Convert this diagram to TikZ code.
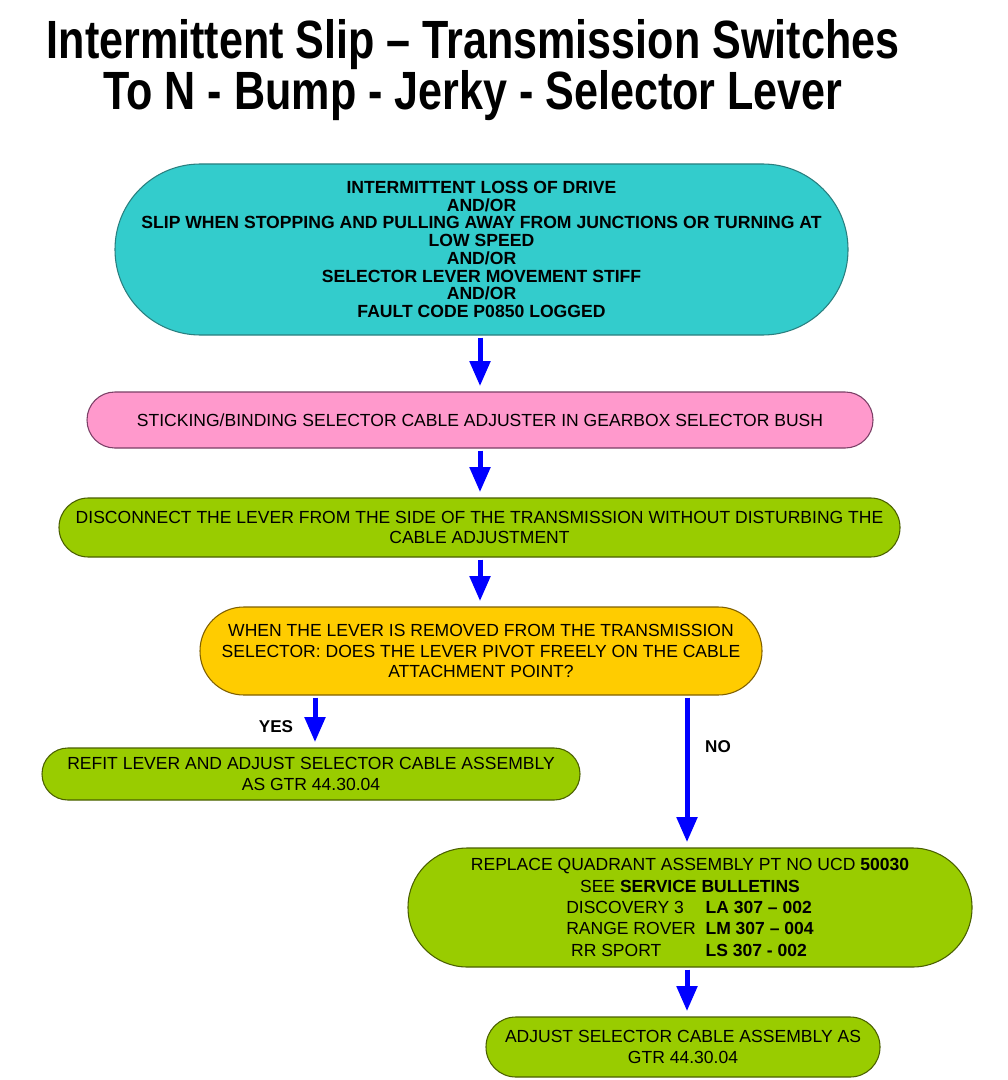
\documentclass[tikz,border=0pt]{standalone}
\usepackage{fontspec}
\usepackage{calc}
\setmainfont{Liberation Sans}
\newfontfamily\narrowfont[FakeStretch=0.80]{Liberation Sans}
\usetikzlibrary{arrows.meta}
\definecolor{tealfill}{HTML}{33CCCC}
\definecolor{tealline}{HTML}{2A7F7F}
\definecolor{pinkfill}{HTML}{FF99CC}
\definecolor{pinkline}{HTML}{7A3F66}
\definecolor{greenfill}{HTML}{99CC00}
\definecolor{greenline}{HTML}{4A6000}
\definecolor{yellowfill}{HTML}{FFCC00}
\definecolor{yellowline}{HTML}{806000}
\definecolor{arrowblue}{HTML}{0000FF}
\newcommand\bulletinrow[2]{\makebox[\widthof{RANGE ROVER\ \ \textbf{LM 307 – 004}}][l]{\makebox[\widthof{RANGE ROVER}][l]{#1}\ \ \textbf{#2}}}
\newcommand\bodysize{\fontsize{13.15}{15.5}\selectfont}
\tikzset{
  box/.style={draw, line width=0.8pt, align=center, inner sep=0pt,
    font=\bodysize},
  flow/.style={draw=arrowblue, line width=3.75pt,
    -{Triangle[width=15pt,length=18.75pt]}, arrowblue,
    shorten <=1.5pt, shorten >=4pt},
  lbl/.style={font=\bfseries\fontsize{12.8}{15}\selectfont, inner sep=0pt},
  titlestyle/.style={font=\narrowfont\bfseries\fontsize{40.4}{35}\selectfont, align=center, inner sep=0pt}
}
\begin{document}
\begin{tikzpicture}[x=0.75pt,y=-0.75pt]
\useasboundingbox[fill=white] (0,0) rectangle (1007,1080);

\node[titlestyle] (title) at (473,70) {Intermittent Slip – Transmission Switches\\[0pt]To N - Bump - Jerky - Selector Lever};

\node[box, fill=tealfill, draw=tealline, minimum width=549.75pt, minimum height=128.25pt,
  rounded corners=64pt, font=\bfseries\fontsize{13.2}{13.3}\selectfont] (b1) at (481.5,249.5)
  {INTERMITTENT LOSS OF DRIVE\\AND/OR\\SLIP WHEN STOPPING AND PULLING AWAY FROM JUNCTIONS OR TURNING AT\\LOW SPEED\\AND/OR\\SELECTOR LEVER MOVEMENT STIFF\\AND/OR\\FAULT CODE P0850 LOGGED};

\node[box, fill=pinkfill, draw=pinkline, minimum width=589.5pt, minimum height=42pt,
  rounded corners=20.9pt] (b2) at (480,420)
  {STICKING/BINDING SELECTOR CABLE ADJUSTER IN GEARBOX SELECTOR BUSH};

\node[box, fill=greenfill, draw=greenline, minimum width=630.75pt, minimum height=44.25pt,
  rounded corners=22pt] (b3) at (479.5,527.5)
  {DISCONNECT THE LEVER FROM THE SIDE OF THE TRANSMISSION WITHOUT DISTURBING THE\\CABLE ADJUSTMENT};

\node[box, fill=yellowfill, draw=yellowline, minimum width=421.5pt, minimum height=66pt,
  rounded corners=32.9pt] (b4) at (481,651)
  {WHEN THE LEVER IS REMOVED FROM THE TRANSMISSION\\SELECTOR: DOES THE LEVER PIVOT FREELY ON THE CABLE\\ATTACHMENT POINT?};

\node[box, fill=greenfill, draw=greenline, minimum width=403.5pt, minimum height=39pt,
  rounded corners=19.4pt] (b5) at (311,774)
  {REFIT LEVER AND ADJUST SELECTOR CABLE ASSEMBLY\\AS GTR 44.30.04};

\node[box, fill=greenfill, draw=greenline, minimum width=423pt, minimum height=89.25pt,
  rounded corners=44.5pt, font=\fontsize{13.15}{16}\selectfont] (b6) at (690,907.5)
  {REPLACE QUADRANT ASSEMBLY PT NO UCD \textbf{50030}\\SEE \textbf{SERVICE BULLETINS}\\
   \bulletinrow{DISCOVERY 3}{LA 307 – 002}\\
   \bulletinrow{RANGE ROVER}{LM 307 – 004}\\
   \bulletinrow{\ RR SPORT}{LS 307 - 002}};

\node[box, fill=greenfill, draw=greenline, minimum width=295.5pt, minimum height=45pt,
  rounded corners=22.4pt] (b7) at (683,1047)
  {ADJUST SELECTOR CABLE ASSEMBLY AS\\GTR 44.30.04};

\coordinate (cx) at (480,0);
\coordinate (yesx) at (315,0);
\coordinate (nox) at (687,0);

\draw[flow] (b1.south -| cx) -- (b2.north -| cx);
\draw[flow] (b2.south -| cx) -- (b3.north -| cx);
\draw[flow] (b3.south -| cx) -- (b4.north -| cx);
\draw[flow] (b4.south -| yesx) -- (b5.north -| yesx);
\draw[flow] (b4.south -| nox) -- (b6.north -| nox);
\draw[flow] (b6.south -| nox) -- (b7.north -| nox);

\node[lbl] (yes) at (276,727) {YES};
\node[lbl] (no) at (718,747) {NO};
\end{tikzpicture}
\end{document}
